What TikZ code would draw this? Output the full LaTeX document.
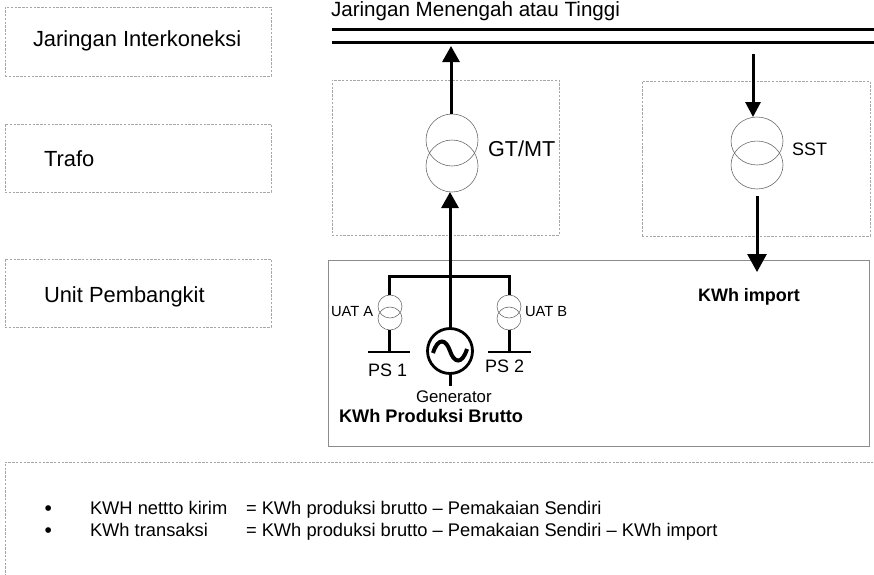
\documentclass[tikz,border=0pt]{standalone}
\usepackage{fontspec}
\setmainfont{Liberation Sans}
\usetikzlibrary{arrows.meta,positioning,shapes.geometric,calc}

\begin{document}
\begin{tikzpicture}[x=1pt,y=-1pt,
  dashbox/.style={draw=gray!70,dashed,dash pattern=on 2.4pt off 1.4pt,line width=0.6pt,inner sep=0pt,outer sep=0pt,anchor=north west},
  trafo/.style={draw=gray!85!black,ellipse,line width=0.6pt,inner sep=0pt,outer sep=0pt},
  lbl/.style={inner sep=0pt,outer sep=0pt,anchor=base west,font=\fontsize{#1}{#1}\selectfont},
  boldlbl/.style={lbl=#1,font=\fontsize{#1}{#1}\selectfont\bfseries},
  wire/.style={line width=3pt},
  bus/.style={line width=3pt},
  >={Triangle[length=16pt,width=17pt]}]
  \useasboundingbox (0,0) rectangle (874,574);
  % left column
  \node[dashbox,minimum width=266pt,minimum height=69pt] (inter) at (5,7) {};
  \node[dashbox,minimum width=266pt,minimum height=68pt] (trafo) at (5,124) {};
  \node[dashbox,minimum width=266pt,minimum height=68pt] (unit) at (5,259) {};
  \node[lbl=21.9] (interT) at (33,46) {Jaringan Interkoneksi};
  \node[lbl=21.9] (trafoT) at (44,166) {Trafo};
  \node[lbl=21.9] (unitT) at (44,302) {Unit Pembangkit};
  % busbars
  \node[lbl=20.6] (netT) at (331,16) {Jaringan Menengah atau Tinggi};
  \coordinate (busAw) at (332,29); \coordinate (busAe) at (874,29);
  \coordinate (busBw) at (332,42); \coordinate (busBe) at (874,42);
  \draw[bus] (busAw)--(busAe);
  \draw[bus] (busBw)--(busBe);
  % transformer boxes
  \node[dashbox,minimum width=227pt,minimum height=155pt] (gtbox) at (332,80) {};
  \node[dashbox,minimum width=228pt,minimum height=155pt] (sstbox) at (642,81) {};
  \node[draw=gray!90,line width=0.7pt,inner sep=0pt,outer sep=0pt,anchor=north west,minimum width=541pt,minimum height=186pt] (plant) at (328,260) {};
  \node[trafo,minimum width=52pt,minimum height=52pt] (gtA) at (452,140) {};
  \node[trafo,minimum width=52pt,minimum height=52pt] (gtB) at (452,166) {};
  \node[lbl=21.6] (gtT) at (488,156) {GT/MT};
  \node[trafo,minimum width=52pt,minimum height=48pt] (sstA) at (757,141) {};
  \node[trafo,minimum width=52pt,minimum height=48pt] (sstB) at (757,165) {};
  \node[lbl=18] (sstT) at (792,155) {SST};
  \coordinate (gtTip) at (451,46); \coordinate (sstIn) at (753,54); \coordinate (sstTip) at (753,117);
  \coordinate (sstOut) at (757,196); \coordinate (impTip) at (757,272);
  \draw[wire,->] (gtA.north-|gtTip) -- (gtTip);
  \draw[wire,->,>={Triangle[length=15pt,width=15pt]}] (sstIn)--(sstTip);
  \draw[wire,->,>={Triangle[length=18pt,width=19pt]}] (sstOut)--(impTip);
  % generator
  \node[draw,circle,line width=2.8pt,minimum size=45pt,inner sep=0pt,outer sep=0pt] (gen) at (450,351) {};
  \coordinate (genTail) at (450,386);
  \coordinate (busL) at (389,276); \coordinate (busR) at (509,276);
  \draw[wire] (gen.south)--(genTail);
  \draw[wire] (gen.north) -- (gen.north|-busL);
  \draw[wire,->] (gen.north|-busL) -- (gen.north|-gtB.south);
  \draw (433,353) .. controls (438,337) and (446,339) .. (450,351) .. controls (454,363) and (462,365) .. (467,349) [line width=4pt];
  % station transformers
  \node[trafo,minimum width=24pt,minimum height=23pt] (uatAa) at (390,306.5) {};
  \node[trafo,minimum width=24pt,minimum height=23pt] (uatAb) at (390,318.5) {};
  \node[trafo,minimum width=24pt,minimum height=23pt] (uatBa) at (509,306.5) {};
  \node[trafo,minimum width=24pt,minimum height=23pt] (uatBb) at (509,318.5) {};
  \node[lbl=14.7] (uatAT) at (331,316.5) {UAT A};
  \node[lbl=14.7] (uatBT) at (525,316.5) {UAT B};
  \coordinate (ps1w) at (368,352); \coordinate (ps1e) at (410,352);
  \coordinate (ps2w) at (488,352); \coordinate (ps2e) at (531,352);
  \draw[wire] (uatAa.north-|busL) |- (busR) -- (uatBa.north-|busR);
  \draw[wire] (uatAb.south-|busL) -- (ps1w-|busL);
  \draw[wire] (uatBb.south-|busR) -- (ps2w-|busR);
  \draw[line width=2.8pt] (ps1w)--(ps1e);
  \draw[line width=2.8pt] (ps2w)--(ps2e);
  \node[lbl=18] (ps1T) at (368,376) {PS 1};
  \node[lbl=18] (ps2T) at (485,372) {PS 2};
  \node[lbl=16.8] (genT) at (416,402) {Generator};
  \node[boldlbl=18.2] (prodT) at (339,422) {KWh Produksi Brutto};
  \node[boldlbl=18] (impT) at (698,301.5) {KWh import};
  % notes
  \node[dashbox,minimum width=900pt,minimum height=140pt] (note) at (5,462) {};
  \node[lbl=21] (b1) at (44.5,515) {\textbullet};
  \node[lbl=21] (b2) at (44.5,537) {\textbullet};
  \node[lbl=18.3] (n1a) at (90,514) {KWH nettto kirim};
  \node[lbl=18.3] (n2a) at (90,536) {KWh transaksi};
  \node[lbl=18.3] (n1b) at (246,514) {= KWh produksi brutto – Pemakaian Sendiri};
  \node[lbl=18.3] (n2b) at (246,536) {= KWh produksi brutto – Pemakaian Sendiri – KWh import};
\end{tikzpicture}
\end{document}
